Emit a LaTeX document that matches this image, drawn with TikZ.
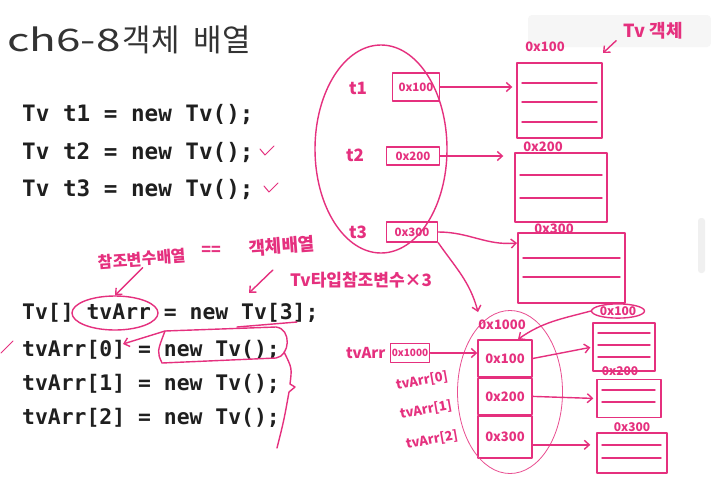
\documentclass[tikz,border=0pt]{standalone}
\usepackage{fontspec}
\usepackage{xcolor}
\setmainfont{Noto Sans CJK KR}
\newfontfamily\hanfont{Noto Sans CJK KR}
\newfontfamily\codefont{DejaVu Sans Mono}
\usetikzlibrary{positioning, arrows.meta, shapes.geometric}
\definecolor{inkpink}{HTML}{E5307E}
\tikzset{
  ink/.style={draw=inkpink, line width=1.4pt, line cap=round, line join=round},
  tip/.style={ink, -{Straight Barb[length=5pt,width=9pt]}},
  memo/.style={text=inkpink, inner sep=1pt, font=\hanfont\bfseries\fontsize{15}{15}\selectfont},
  addr/.style={memo, ink, inner sep=1.5pt, font=\hanfont\bfseries\fontsize{11.5}{11.5}\selectfont},
  objbox/.style={ink, inner sep=0pt},
  cellbox/.style={ink, text=inkpink, inner sep=0pt, minimum width=54, font=\hanfont\bfseries\fontsize{13}{13}\selectfont},
  codeline/.style={anchor=west, inner sep=0pt, text=black!88},
}
\begin{document}
\begin{tikzpicture}[x=1pt, y=-1pt]
\useasboundingbox[fill=white] (0,0) rectangle (711,490);

% screen overlays
\fill[gray!7, rounded corners=4pt] (528,15) rectangle (711,47);
\fill[gray!12, rounded corners=3pt] (698,218) rectangle (705,273);

% title
\node (title) [anchor=west, inner sep=0pt, text=black!80, font=\hanfont\fontsize{31}{31}\selectfont] at (7,40) {{\addfontfeature{FakeStretch=1.42}ch6-8}\hspace{2pt}객체\hspace{14pt}배열};

% code
\foreach \n/\y/\txt in {row1/115/{Tv t1 = new Tv();}, row2/153/{Tv t2 = new Tv();}, row3/190/{Tv t3 = new Tv();}}
  \node (\n) [codeline, font=\codefont\bfseries\fontsize{22.6}{24}\selectfont] at (22,\y) {\txt};
\foreach \n/\y/\txt in {row4/313/{Tv[] tvArr = new Tv[3];}, row5/350/{tvArr[0] = new Tv();}, row6/384/{tvArr[1] = new Tv();}, row7/418/{tvArr[2] = new Tv();}}
  \node (\n) [codeline, font=\codefont\bfseries\fontsize{21.4}{23}\selectfont] at (22,\y) {\txt};

% notes on the code
\draw[ink, line width=1pt] (260,149) -- (265,155) -- (274,146);
\draw[ink, line width=1pt] (264,186) -- (269,192) -- (278,183);
\draw[ink, line width=1pt] (1,353) -- (13,341);
\node (tvring) [ellipse, ink, minimum width=86, minimum height=34] at (115,313) {};
\node (refmemo) [memo, rotate=4, font=\hanfont\bfseries\fontsize{16}{16}\selectfont] at (142,259) {참조변수배열};
\node (eqmemo) [memo, font=\hanfont\bfseries\fontsize{16}{16}\selectfont] at (211,251) {==};
\node (objmemo) [memo, rotate=4, font=\hanfont\bfseries\fontsize{18}{18}\selectfont] at (282,246) {객체배열};
\draw[tip] (refmemo.south) -- (tvring.north);
\node (typememo) [memo, font=\hanfont\bfseries\fontsize{17}{17}\selectfont] at (361,280) {Tv타입참조변수×3};
\coordinate (tvtype) at (249,293);
\draw[tip] ([xshift=-16pt, yshift=10pt]typememo.west) -- (tvtype);
\draw[ink] (237,327) -- (297,322);
\draw[ink] (165,331) -- (276,327) .. controls (292,329) and (290,356) .. (276,358) -- (162,363) .. controls (157,352) .. (165,331);
\coordinate (idx0) at (123,344);
\draw[tip] (165,331) -- (idx0);
\draw[ink] (284,352) .. controls (292,368) .. (290,384) -- (295,387) -- (289,392) .. controls (284,420) .. (277,448);

% single references
\node (tring) [ellipse, ink, minimum width=132, minimum height=208] at (381,149) {};
\node (b1) [addr, minimum width=47, minimum height=28] at (416,87) {0x100};
\node (b2) [addr, minimum width=53, minimum height=18] at (413,156) {0x200};
\node (b3) [addr, minimum width=51, minimum height=20] at (412,232) {0x300};
\node (t1) [memo, font=\hanfont\bfseries\fontsize{17}{17}\selectfont] at (358,88) {t1};
\node (t2) [memo, font=\hanfont\bfseries\fontsize{17}{17}\selectfont] at (355,155) {t2};
\node (t3) [memo, font=\hanfont\bfseries\fontsize{17}{17}\selectfont] at (358,232) {t3};

% Tv objects
\node (obj1) [objbox, minimum width=85, minimum height=75] at (559.5,100.5) {};
\node (obj2) [objbox, minimum width=92, minimum height=69] at (561,187.5) {};
\node (obj3) [objbox, minimum width=107, minimum height=70] at (571.5,268) {};
\foreach \y in {83,102,122} \draw[ink] (522,\y) -- (597,\y);
\foreach \y in {175,198} \draw[ink] (520,\y) -- (602,\y);
\foreach \y in {258,277} \draw[ink] (523,\y) -- (620,\y);
\node (o1lbl) [memo, font=\hanfont\bfseries\fontsize{13}{13}\selectfont] at (545,47) {0x100};
\node (o2lbl) [memo, font=\hanfont\bfseries\fontsize{13}{13}\selectfont] at (543,147) {0x200};
\node (o3lbl) [memo, font=\hanfont\bfseries\fontsize{13}{13}\selectfont] at (554,229) {0x300};
\node (tvobjmemo) [memo, font=\hanfont\bfseries\fontsize{18}{18}\selectfont] at (653,31) {Tv 객체};
\coordinate (o1top) at (603,53);
\draw[tip] ([xshift=-6pt]tvobjmemo.south west) -- (o1top);

\draw[tip, shorten >=4pt] (b1.east) -- (b1.east -| obj1.west);
\draw[tip, shorten >=11pt] (b2.east) -- (b2.east -| obj2.west);
\coordinate (o3in) at (517,243);
\draw[tip] (b3.east) to[out=0, in=185] (o3in);
\coordinate (arrtop) at (478,312);
\draw[tip] (b3.south east) to[out=-55, in=105] (arrtop);

% array of references
\node (cell0) [cellbox, minimum height=37] at (505,358.5) {0x100};
\node (cell1) [cellbox, minimum height=36, below=0pt of cell0] {0x200};
\node (cell2) [cellbox, minimum height=42, below=0pt of cell1] {0x300};
\node (arrring) [ellipse, draw=inkpink!85, line width=0.8pt, minimum width=105, minimum height=163] at (510,392) {};
\node (arrlbl) [memo, font=\hanfont\bfseries\fontsize{13}{13}\selectfont] at (502,325) {0x1000};
\node (tvb) [addr, font=\hanfont\bfseries\fontsize{10}{10}\selectfont, minimum height=19] at (410,353) {0x1000};
\node (tvlbl) [memo, left=3pt of tvb] {tvArr};
\draw[tip] (tvb.east) -- (tvb.east -| cell0.west);
\node (idx0lbl) [memo, rotate=10, font=\hanfont\bfseries\fontsize{13}{13}\selectfont] at (422,381) {tvArr[0]};
\node (idx1lbl) [memo, rotate=10, font=\hanfont\bfseries\fontsize{13}{13}\selectfont] at (426,410) {tvArr[1]};
\node (idx2lbl) [memo, rotate=10, font=\hanfont\bfseries\fontsize{13}{13}\selectfont] at (432,440) {tvArr[2]};

% Tv objects of the array
\node (sobj1) [objbox, minimum width=62, minimum height=48] at (624,347) {};
\node (sobj2) [objbox, minimum width=64, minimum height=38] at (629,398.5) {};
\node (sobj3) [objbox, minimum width=70, minimum height=40] at (632,453) {};
\foreach \y in {333,345,357} \draw[ink] (598,\y) -- (650,\y);
\foreach \y in {390,402} \draw[ink] (602,\y) -- (655,\y);
\foreach \y in {445,458} \draw[ink] (602,\y) -- (661,\y);
\node (s1lbl) [memo, ellipse, ink, inner sep=0.5pt, font=\hanfont\bfseries\fontsize{12}{12}\selectfont] at (618,311) {0x100};
\node (s2lbl) [memo, font=\hanfont\bfseries\fontsize{12}{12}\selectfont] at (620,371) {0x200};
\node (s3lbl) [memo, font=\hanfont\bfseries\fontsize{12}{12}\selectfont] at (632,427) {0x300};

\draw[tip, shorten >=2pt] (cell0.east) -- (sobj1.west);
\draw[tip, shorten >=3pt] (cell1.east) -- (sobj2.west);
\draw[tip, shorten >=6pt] ([yshift=-8pt]cell2.east) -- ([yshift=-8pt]cell2.east -| sobj3.west);
\draw[tip] (s1lbl.west) to[out=195, in=35] ([xshift=13pt]cell0.north);
\end{tikzpicture}
\end{document}
